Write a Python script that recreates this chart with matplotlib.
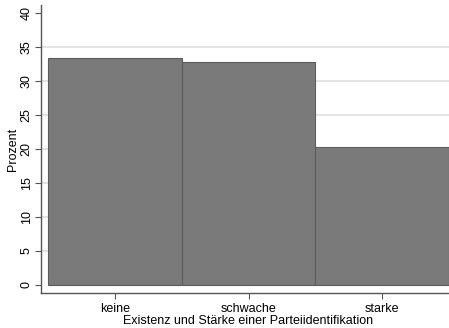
import matplotlib
matplotlib.use('Agg')
import matplotlib.pyplot as plt

# Werte
kategorien = ['keine', 'schwache', 'starke']
prozent = [33.4, 32.8, 20.3]
y_ticks = [0, 5, 10, 15, 20, 25, 30, 35, 40]

plt.rcParams['font.family'] = ['Liberation Sans', 'DejaVu Sans']

fig = plt.figure(figsize=(4.49, 3.28), dpi=100)
ax = fig.add_axes([41 / 449, 35 / 328, 415 / 449, 288 / 328])

pos = list(range(1, len(kategorien) + 1))

# Gitterlinien (ohne Rand bei 0 und 40)
for t in y_ticks[1:-1]:
    ax.axhline(t, color='#dcdcdc', linewidth=1.1, zorder=0)

ax.bar(pos, prozent, width=1.0, color='#7a7a7a', edgecolor='#5c5c5c', linewidth=0.8, zorder=2)

ax.set_xlim(0.45, 3.55)
ax.set_ylim(-1.18, 41.18)
ax.set_xticks(pos)
ax.set_xticklabels(kategorien, fontsize=9)
ax.set_yticks(y_ticks)
ax.set_yticklabels([str(t) for t in y_ticks], rotation=90, va='center', fontsize=9)

ax.tick_params(axis='both', direction='out', length=4, width=0.8, color='#555555', pad=2)
ax.tick_params(axis='x', pad=3)

for s in ['top', 'right']:
    ax.spines[s].set_visible(False)
for s in ['left', 'bottom']:
    ax.spines[s].set_color('#555555')
    ax.spines[s].set_linewidth(1.0)

ax.set_ylabel('Prozent', fontsize=9, labelpad=1)
ax.set_xlabel('Existenz und Stärke einer Parteiidentifikation', fontsize=9, labelpad=0)

fig.savefig('out.png', dpi=100)
